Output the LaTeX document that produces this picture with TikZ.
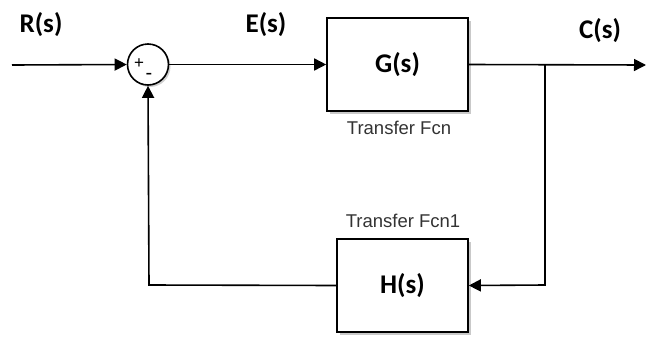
\documentclass[tikz,border=0pt]{standalone}
\usepackage{fontspec}
\setmainfont{Liberation Sans}
\newfontfamily\labelfont{Carlito}
\usetikzlibrary{arrows.meta,shadows}
\begin{document}
\begin{tikzpicture}[x=1pt,y=-1pt,
  wire/.style={line width=1.6pt},
  sig/.style={wire,-{Triangle[length=12pt,width=12pt]}},
  block/.style={draw,line width=1.6pt,fill=white,inner sep=0pt,
    drop shadow={shadow xshift=2.5pt,shadow yshift=-2.5pt,opacity=0.35,fill=black!60}},
  sumblk/.style={circle,draw,line width=1.6pt,fill=white,minimum size=41pt,inner sep=0pt,
    drop shadow={shadow xshift=2pt,shadow yshift=-2pt,opacity=0.3,fill=black!60}},
  sig label/.style={font=\labelfont\bfseries\fontsize{27}{27}\selectfont},
  cap label/.style={font=\fontsize{18.5}{18.5}\selectfont,text=black!80}]
  \useasboundingbox (0,0) rectangle (646,338);
  \fill[white] (0,0) rectangle (646,338);

  % blocks
  \node[sumblk] (sum) at (148,64.5) {};
  \node[block,minimum width=141pt,minimum height=93pt] (G) at (397.5,64.5) {};
  \node[block,minimum width=131pt,minimum height=93pt] (H) at (402.5,285.5) {};
  \node[sig label] (Gt) at (G.center) {G(s)};
  \node[sig label] (Ht) at (H.center) {H(s)};
  \node[font=\fontsize{17}{17}\selectfont] (plus) at (139,64) {+};
  \node[font=\fontsize{20}{20}\selectfont] (minus) at (149,76) {-};

  % captions and signal names
  \node[cap label] (Gcap) at (399,128) {Transfer Fcn};
  \node[cap label] (Hcap) at (403,221) {Transfer Fcn1};
  \node[sig label] (Rl) at (41,25) {R(s)};
  \node[sig label] (El) at (266,25) {E(s)};
  \node[sig label] (Cl) at (600,31) {C(s)};

  % signal paths
  \coordinate (in) at (12,65);
  \coordinate (out) at (646,65);
  \coordinate (branch) at (545,65);
  \coordinate (down) at (545,285);
  \coordinate (corner) at (149,285);
  \draw[sig] (in) -- (sum.west);
  \draw[sig] (sum.east) -- (G.west);
  \draw[sig] (G.east) -- (out);
  \draw[sig] (branch) -- (down) -- (H.east);
  \draw[sig] (H.west) -- (corner) -- (sum.south);
  \fill (branch) circle (0.8pt);
\end{tikzpicture}
\end{document}
